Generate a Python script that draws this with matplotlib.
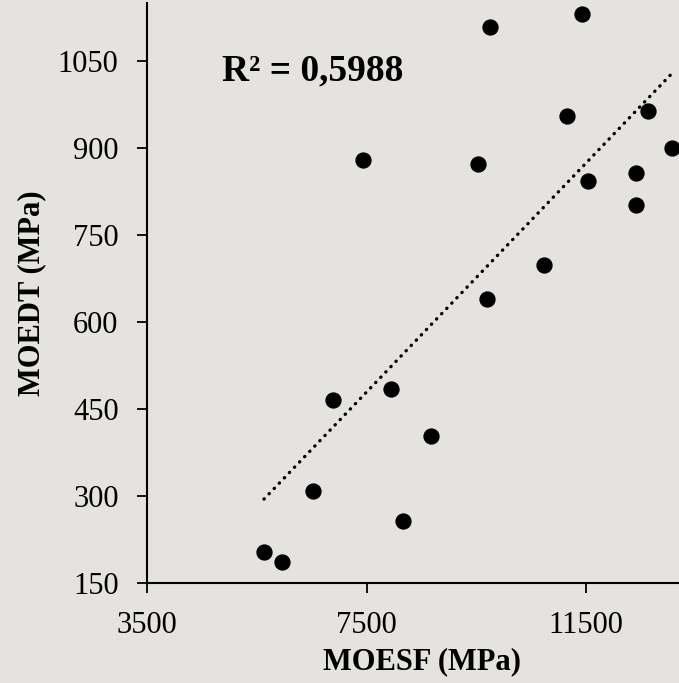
import numpy as np
import matplotlib
matplotlib.use("Agg")
import matplotlib.pyplot as plt

# MOESF (MPa) vs MOEDT (MPa)
moesf = [9741, 11427, 11149, 12624, 13061, 7428, 9528, 12399, 11537, 12399,
         10735, 9692, 6881, 6529, 5631, 5953, 7938, 8672, 8156]
moedt = [1109, 1131, 955, 964, 900, 880, 872, 857, 843, 801,
         699, 640, 466, 308, 203, 187, 484, 403, 257]
r2_label = "R² = 0,5988"
x_ticks = [3500, 7500, 11500]
y_ticks = [150, 300, 450, 600, 750, 900, 1050]

plt.rcParams['font.family'] = ['Liberation Serif', 'DejaVu Serif']
bg = '#e5e3df'

fig = plt.figure(figsize=(6.79, 6.83), dpi=100, facecolor=bg)
ax = fig.add_axes([147 / 679, 100 / 683, 10000 * 0.054913 / 679, 580 / 683])
ax.set_facecolor(bg)

ax.scatter(moesf, moedt, s=115, color='black', zorder=3, clip_on=False)

# linear trendline over the data range
x = np.array(moesf, dtype=float)
y = np.array(moedt, dtype=float)
k, b = np.polyfit(x, y, 1)
xt = np.array([x.min(), x.max()])
ax.plot(xt, k * xt + b, color='black', lw=2.4, linestyle=(0, (0.1, 2.1)),
        dash_capstyle='round', zorder=2)

ax.text(4866, 1033, r2_label, fontsize=27, fontweight='bold', ha='left', va='center')

ax.set_xlim(3500, 13500)
ax.set_ylim(150, 1150)
ax.set_xticks(x_ticks)
ax.set_yticks(y_ticks)
ax.tick_params(labelsize=22, length=7.5, width=1.3, direction='out')
ax.tick_params(axis='y', pad=13)
ax.tick_params(axis='x', pad=13)
for s in ['top', 'right']:
    ax.spines[s].set_visible(False)
for s in ['left', 'bottom']:
    ax.spines[s].set_linewidth(1.5)

ax.set_xlabel("MOESF (MPa)", fontsize=22, fontweight='bold', labelpad=5)
ax.set_ylabel("MOEDT (MPa)", fontsize=22, fontweight='bold', labelpad=8)

fig.savefig("out.png", dpi=100, facecolor=bg)
